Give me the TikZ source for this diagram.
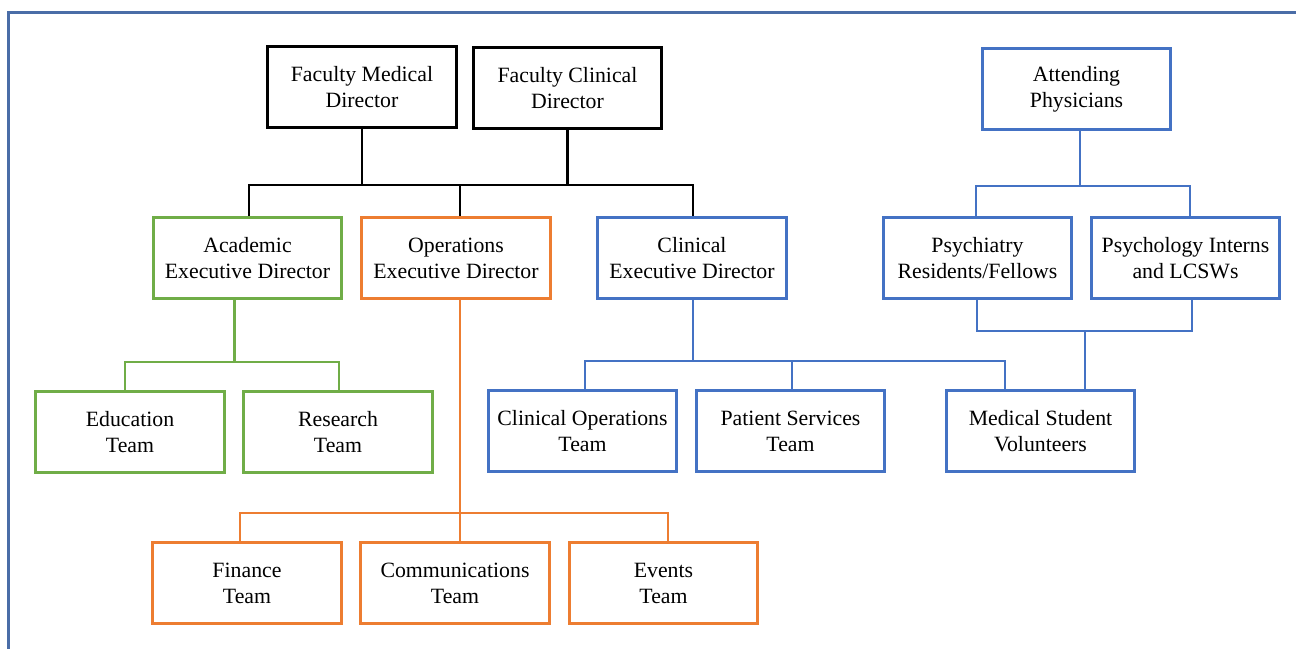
\documentclass[tikz,border=0pt]{standalone}
\usepackage{fontspec}
\setmainfont{Liberation Serif}
\usetikzlibrary{calc}
\definecolor{cgreen}{HTML}{70AD47}
\definecolor{corange}{HTML}{ED7D31}
\definecolor{cblue}{HTML}{4472C4}
\definecolor{cframe}{HTML}{4A6DA7}
\begin{document}
\begin{tikzpicture}[x=0.5pt,y=-0.5pt,
  box/.style={draw,line width=1.4pt,minimum width=94.3pt,minimum height=40.8pt,
    inner sep=0pt,align=center,font=\fontsize{10.9}{13}\selectfont},
  kbox/.style={box,draw=black},
  gbox/.style={box,draw=cgreen},
  obox/.style={box,draw=corange},
  bbox/.style={box,draw=cblue},
  link/.style={line width=1.4pt},
  klink/.style={link,draw=black},
  glink/.style={link,draw=cgreen},
  olink/.style={link,draw=corange},
  blink/.style={link,draw=cblue}]
\useasboundingbox (0,0) rectangle (1296,649);
\fill[white] (0,0) rectangle (1296,649);
\draw[cframe,line width=1.5pt] (1296,12) -- (8,12) -- (8,649);

% top
\node[kbox] (fmd) at (362,87) {Faculty Medical\\Director};
\node[kbox] (fcd) at (567.5,88) {Faculty Clinical\\Director};
\node[bbox] (att) at (1076.5,89) {Attending\\Physicians};
% second row
\node[gbox] (aed) at (247.5,258) {Academic\\Executive Director};
\node[obox] (oed) at (456,258) {Operations\\Executive Director};
\node[bbox] (ced) at (692,258) {Clinical\\Executive Director};
\node[bbox] (psy) at (977.5,258) {Psychiatry\\Residents/Fellows};
\node[bbox] (psl) at (1185.5,258) {Psychology Interns\\and LCSWs};
% third row
\node[gbox] (edu) at (130,432) {Education\\Team};
\node[gbox] (res) at (338,432) {Research\\Team};
\node[bbox] (cop) at (582.5,431) {Clinical Operations\\Team};
\node[bbox] (pat) at (790.5,431) {Patient Services\\Team};
\node[bbox] (msv) at (1040.5,431) {Medical Student\\Volunteers};
% bottom row
\node[obox] (fin) at (247,583) {Finance\\Team};
\node[obox] (com) at (455,583) {Communications\\Team};
\node[obox] (evt) at (663.5,583) {Events\\Team};

% junction levels
\coordinate (kbar) at (0,185);
\coordinate (gbar) at (0,362);
\coordinate (obar) at (0,513);
\coordinate (bbar) at (0,361);
\coordinate (abar) at (0,186);
\coordinate (pbar) at (0,331);

% black connectors
\draw[klink] (fmd.south) -- (fmd.south |- kbar);
\draw[klink] (fcd.south) -- (fcd.south |- kbar);
\draw[klink] ($(aed.north)+(1.5,0)$) -- ($(aed.north |- kbar)+(1.5,0)$)
  -- ($(ced.north |- kbar)+(1,0)$) -- ($(ced.north)+(1,0)$);
\draw[klink] ($(oed.north)+(4,0)$) -- ($(oed.north |- kbar)+(4,0)$);

% green connectors
\draw[glink] ($(aed.south)+(-13,0)$) -- ($(aed.south |- gbar)+(-13,0)$);
\draw[glink] ($(edu.north)+(-5,0)$) -- ($(edu.north |- gbar)+(-5,0)$)
  -- ($(res.north |- gbar)+(1,0)$) -- ($(res.north)+(1,0)$);

% orange connectors
\draw[olink] ($(oed.south)+(4,0)$) -- ($(oed.south |- obar)+(4,0)$);
\draw[olink] ($(fin.north)+(-7,0)$) -- ($(fin.north |- obar)+(-7,0)$)
  -- ($(evt.north |- obar)+(4.5,0)$) -- ($(evt.north)+(4.5,0)$);
\draw[olink] ($(com.north)+(5,0)$) -- ($(com.north |- obar)+(5,0)$);

% blue connectors (clinical)
\draw[blink] ($(ced.south)+(1,0)$) -- ($(ced.south |- bbar)+(1,0)$);
\draw[blink] ($(cop.north)+(2.5,0)$) -- ($(cop.north |- bbar)+(2.5,0)$)
  -- ($(msv.north |- bbar)+(-35.5,0)$) -- ($(msv.north)+(-35.5,0)$);
\draw[blink] ($(pat.north)+(1.5,0)$) -- ($(pat.north |- bbar)+(1.5,0)$);

% blue connectors (attending)
\draw[blink] ($(att.south)+(3.5,0)$) -- ($(att.south |- abar)+(3.5,0)$);
\draw[blink] ($(psy.north)+(-1.5,0)$) -- ($(psy.north |- abar)+(-1.5,0)$)
  -- ($(psl.north |- abar)+(4.5,0)$) -- ($(psl.north)+(4.5,0)$);
\draw[blink] ($(psy.south)+(-0.5,0)$) -- ($(psy.south |- pbar)+(-0.5,0)$)
  -- ($(psl.south |- pbar)+(6.5,0)$) -- ($(psl.south)+(6.5,0)$);
\draw[blink] ($(msv.north)+(44.5,0)$) -- ($(msv.north |- pbar)+(44.5,0)$);
\end{tikzpicture}
\end{document}
